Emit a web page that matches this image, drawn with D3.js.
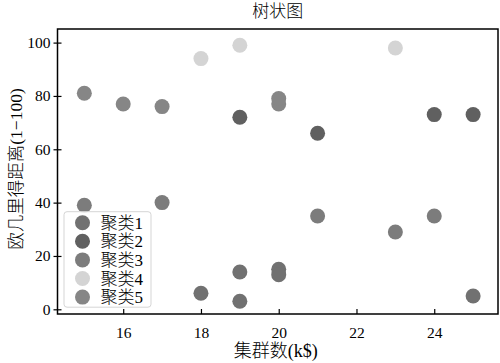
<!DOCTYPE html>
<html>
<head>
<meta charset="utf-8">
<script src="https://cdn.jsdelivr.net/npm/d3@7"></script>
<style>
  body { margin: 0; background: #fff; }
  svg { display: block; }
</style>
</head>
<body>
<svg id="drawing_region"></svg>
<script>
// 聚类名称
const clusterNames = ['聚类1', '聚类2', '聚类3', '聚类4', '聚类5'];

// 每个聚类的点 (x: 集群数, y: 距离)
const cluster1X = [18, 19, 19, 20, 20, 25];
const cluster1Y = [6, 14, 3, 15, 13, 5];
const cluster2X = [19, 21, 24, 25];
const cluster2Y = [72, 66, 73, 73];
const cluster3X = [15, 17, 21, 23, 24];
const cluster3Y = [39, 40, 35, 29, 35];
const cluster4X = [18, 19, 23];
const cluster4Y = [94, 99, 98];
const cluster5X = [15, 16, 17, 20, 20];
const cluster5Y = [81, 77, 76, 77, 79];

const xTicks = [16, 18, 20, 22, 24];
const yTicks = [0, 20, 40, 60, 80, 100];

const clusterXs = [cluster1X, cluster2X, cluster3X, cluster4X, cluster5X];
const clusterYs = [cluster1Y, cluster2Y, cluster3Y, cluster4Y, cluster5Y];

class ScatterPlot {

    constructor( config, data ) {
        this.config = {
            parent: config.parent,
            width: config.width || 256,
            height: config.height || 256,
            margin: config.margin || {top:20, right:20, bottom:20, left:20},
            radius: config.radius || 7.5,
            colors: config.colors,
            xlabel: config.xlabel || "",
            ylabel: config.ylabel || "",
            title: config.title || ""
        }
        this.data = data;
        this.init();
    }

    init() {
        let self = this;
        const font = "'Liberation Serif', 'Noto Sans CJK SC', serif";

        self.svg = d3.select( self.config.parent )
            .attr('width', self.config.width)
            .attr('height', self.config.height)
            .style('font-family', font)
            .style('font-weight', 300);

        self.inner_width = self.config.width - self.config.margin.left - self.config.margin.right;
        self.inner_height = self.config.height - self.config.margin.top - self.config.margin.bottom;

        self.chart = self.svg.append('g')
            .attr('transform', `translate(${self.config.margin.left}, ${self.config.margin.top})`);

        self.xscale = d3.scaleLinear()
            .range( [0, self.inner_width] );

        self.yscale = d3.scaleLinear()
            .range( [self.inner_height, 0] );

        self.color = d3.scaleOrdinal()
            .domain(clusterNames)
            .range(self.config.colors);

        self.xaxis = d3.axisBottom( self.xscale )
            .tickValues(xTicks)
            .tickSizeInner(-5)
            .tickSizeOuter(0)
            .tickPadding(13);

        self.yaxis = d3.axisLeft( self.yscale )
            .tickValues(yTicks)
            .tickSizeInner(4)
            .tickSizeOuter(0)
            .tickPadding(3);

        self.points_group = self.chart.append('g');

        self.xaxis_group = self.chart.append('g')
            .attr('transform', `translate(0, ${self.inner_height})`);

        self.yaxis_group = self.chart.append('g');

        self.frame = self.chart.append('rect');
        self.legend = self.chart.append('g');
        self.title = self.svg.append('text');
        self.xlabel = self.svg.append('text');
        self.ylabel = self.svg.append('text');
    }

    update() {
        let self = this;

        // 轴范围
        self.xscale.domain( [14.31, 25.64] );
        self.yscale.domain( [-1.76, 105.1] );

        self.render();
    }

    render() {
        let self = this;

        self.points_group.selectAll('circle')
            .data(self.data)
            .join('circle')
            .attr('cx', d => self.xscale(d.x))
            .attr('cy', d => self.yscale(d.y))
            .attr('r', self.config.radius)
            .attr('fill', d => self.color(d.cluster));

        self.xaxis_group.call(self.xaxis);
        self.xaxis_group.select('.domain').remove();
        self.xaxis_group.selectAll('.tick line').attr('stroke', '#000').attr('stroke-width', 1.2);
        self.xaxis_group.selectAll('.tick text')
            .attr('font-size', 15.5)
            .attr('fill', '#000')
            .style('font-family', "'Liberation Serif', serif")
            .style('font-weight', 400);

        self.yaxis_group.call(self.yaxis);
        self.yaxis_group.select('.domain').remove();
        self.yaxis_group.selectAll('.tick line')
            .attr('x1', 4)
            .attr('stroke', '#000')
            .attr('stroke-width', 1.2);
        self.yaxis_group.selectAll('.tick text')
            .attr('font-size', 15.5)
            .attr('fill', '#000')
            .style('font-family', "'Liberation Serif', serif")
            .style('font-weight', 400);

        self.frame
            .attr('width', self.inner_width)
            .attr('height', self.inner_height)
            .attr('fill', 'none')
            .attr('stroke', '#000')
            .attr('stroke-width', 1.5);

        // 图例
        const lx = 6.5, ly = 182.7, lh = 18.6;
        self.legend.append('rect')
            .attr('x', lx)
            .attr('y', ly)
            .attr('width', 87)
            .attr('height', 95.5)
            .attr('rx', 3)
            .attr('fill', '#fff')
            .attr('fill-opacity', 0.85)
            .attr('stroke', '#d5d5d5')
            .attr('stroke-width', 1);

        const items = self.legend.selectAll('g.item')
            .data(clusterNames)
            .join('g')
            .attr('class', 'item')
            .attr('transform', (d, i) => `translate(${lx + 18.5}, ${ly + 11 + i * lh})`);

        items.append('circle')
            .attr('r', self.config.radius)
            .attr('fill', d => self.color(d));

        items.append('text')
            .attr('x', 18)
            .attr('y', 6)
            .attr('font-size', 17)
            .attr('fill', '#000')
            .text(d => d);

        const cx = self.config.margin.left + self.inner_width / 2;

        self.title
            .attr('x', cx)
            .attr('y', 17)
            .attr('font-size', 17)
            .attr('text-anchor', 'middle')
            .text(self.config.title);

        self.xlabel
            .attr('x', cx - 2)
            .attr('y', 357)
            .attr('font-size', 18)
            .attr('text-anchor', 'middle')
            .text(self.config.xlabel);

        self.ylabel
            .attr('transform', `translate(22, 169) rotate(-90)`)
            .attr('font-size', 17.5)
            .attr('text-anchor', 'middle')
            .text(self.config.ylabel);
    }
}

const points = [];
clusterNames.forEach((name, i) => {
    clusterXs[i].forEach((x, j) => {
        points.push({ cluster: name, x: x, y: clusterYs[i][j] });
    });
});

const plot = new ScatterPlot({
    parent: '#drawing_region',
    width: 500,
    height: 363,
    margin: { top: 29, right: 2, bottom: 49, left: 57.5 },
    radius: 7.5,
    colors: ['#717171', '#606060', '#7c7c7c', '#d4d4d4', '#868686'],
    title: '树状图',
    xlabel: '集群数(k$)',
    ylabel: '欧几里得距离(1−100)'
}, points);
plot.update();
</script>
</body>
</html>
